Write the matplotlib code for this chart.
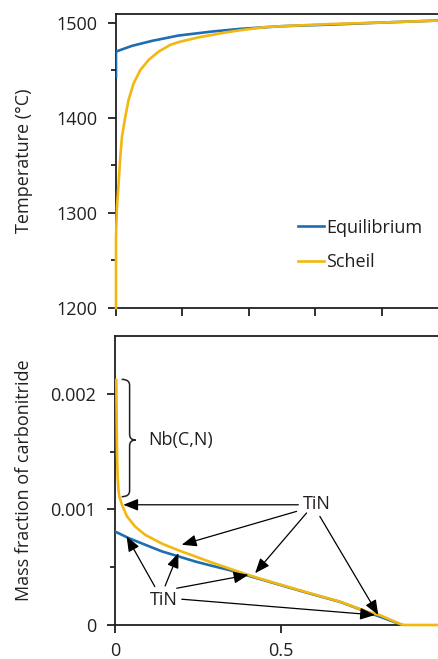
import matplotlib
matplotlib.use("Agg")
import matplotlib.pyplot as plt
from matplotlib.path import Path
from matplotlib.patches import PathPatch
from matplotlib.ticker import FixedLocator, FixedFormatter

plt.rcParams['font.family'] = ['Open Sans', 'DejaVu Sans']

TEXT = '#231f20'
BLUE = '#1f6db3'
YELLOW = '#f2b80f'

# ---------------- data ----------------
# Top panel: temperature vs fraction
eq_top_x = [0, 0, 0.048, 0.109, 0.189, 0.29, 0.375, 0.50, 0.65, 0.80, 1.0]
eq_top_T = [1443, 1469.5, 1475.5, 1480.8, 1486.4, 1490.6, 1493.4, 1496.2, 1497.9, 1500, 1502.5]

sch_top_x = [0, 0, 0.003, 0.008, 0.013, 0.018, 0.028, 0.038, 0.053, 0.073, 0.099,
             0.129, 0.164, 0.189, 0.249, 0.32, 0.375, 0.45, 0.55, 0.65, 0.80, 1.0]
sch_top_T = [1200, 1275, 1307, 1331.5, 1359, 1380, 1401, 1419, 1436, 1450, 1461,
             1469.6, 1476.6, 1479.5, 1484.5, 1489, 1492, 1495.3, 1497, 1498.5, 1500, 1502.5]

# Bottom panel: mass fraction of carbonitride
eq_bot_x = [0, 0.041, 0.091, 0.142, 0.192, 0.242, 0.292, 0.342, 0.392, 0.443,
            0.587, 0.678, 0.758, 0.866]
eq_bot_v = [0.000809, 0.000752, 0.000694, 0.000636, 0.000593, 0.000549, 0.000512,
            0.000477, 0.000434, 0.000392, 0.000272, 0.0002, 0.000114, 0.0]

sch_bot_x = [0.004, 0.005, 0.006, 0.008, 0.010, 0.013, 0.021, 0.036, 0.061, 0.091,
             0.142, 0.192, 0.242, 0.292, 0.342, 0.392, 0.443, 0.587, 0.678, 0.758,
             0.798, 0.866, 1.0]
sch_bot_v = [0.00212, 0.00180, 0.00150, 0.00128, 0.00118, 0.00111, 0.00104, 0.00094,
             0.00085, 0.00078, 0.000703, 0.000645, 0.000593, 0.00054, 0.000491,
             0.000442, 0.000396, 0.000275, 0.000202, 0.000116, 0.000085, 0.0, 0.0]

series_labels = ['Equilibrium', 'Scheil']

top_yticks = [1200, 1300, 1400, 1500]
top_yticklabels = ['1200', '1300', '1400', '1500']
top_yminor = [1250, 1350, 1450]
top_xticks = [0, 0.2, 0.4, 0.6, 0.8]

bot_yticks = [0, 0.001, 0.002]
bot_yticklabels = ['0', '0.001', '0.002']
bot_yminor = [0.0005, 0.0015]
bot_xticks = [0, 0.5]
bot_xticklabels = ['0', '0.5']

# annotations
upper_tin_pos = (0.609, 0.00105)
upper_tin_arrows = [  # (start, tip)
    ((0.552, 0.00104), (0.025, 0.00104)),
    ((0.547, 0.000983), (0.201, 0.000694)),
    ((0.577, 0.000969), (0.422, 0.000448)),
    ((0.617, 0.00094), (0.793, 0.0000867)),
]
lower_tin_pos = (0.148, 0.000217)
lower_tin_arrows = [
    ((0.120, 0.000332), (0.035, 0.000766)),
    ((0.151, 0.000338), (0.191, 0.000622)),
    ((0.186, 0.000318), (0.402, 0.000434)),
    ((0.201, 0.000223), (0.783, 0.0000867)),
]
nb_label_pos = (0.100, 0.00160)
brace_x0, brace_x1, brace_tip = 0.020, 0.044, 0.062
brace_top, brace_mid, brace_bot = 0.002125, 0.00160, 0.00111
brace_r = 0.00005

# ---------------- figure ----------------
W, H = 438, 659
fig = plt.figure(figsize=(W / 100, H / 100), dpi=100)
axw = 332 / W
ax1 = fig.add_axes([116 / W, 1 - 308 / H, axw, 294 / H])
ax2 = fig.add_axes([115 / W, 1 - 625 / H, axw, 289 / H])

FS = 13
for ax in (ax1, ax2):
    for s in ax.spines.values():
        s.set_linewidth(1.3)
        s.set_color(TEXT)
    ax.tick_params(which='major', direction='out', length=5.5, width=1.3,
                   colors=TEXT, labelsize=FS)
    ax.tick_params(which='minor', direction='out', length=3.5, width=1.3, colors=TEXT)
    ax.tick_params(axis='y', which='major', pad=8)
    ax.set_xlim(0, 1)

# top panel
ax1.plot(eq_top_x, eq_top_T, color=BLUE, lw=1.9, zorder=3, label=series_labels[0])
ax1.plot(sch_top_x, sch_top_T, color=YELLOW, lw=1.9, zorder=3.1, clip_on=False,
         label=series_labels[1])
ax1.set_ylim(1200, 1509)
ax1.yaxis.set_major_locator(FixedLocator(top_yticks))
ax1.yaxis.set_major_formatter(FixedFormatter(top_yticklabels))
ax1.yaxis.set_minor_locator(FixedLocator(top_yminor))
ax1.xaxis.set_major_locator(FixedLocator(top_xticks))
ax1.tick_params(axis='x', labelbottom=False)
ax1.set_ylabel('Temperature (°C)', fontsize=FS, color=TEXT)
ax1.yaxis.set_label_coords(-0.25, 0.5)
leg = ax1.legend(loc='upper left', bbox_to_anchor=(0.548, 0.304), frameon=False,
                 fontsize=FS, handlelength=1.42, handletextpad=0.15,
                 labelspacing=0.92, borderpad=0, borderaxespad=0)
for t in leg.get_texts():
    t.set_color(TEXT)

# bottom panel
ax2.plot(eq_bot_x, eq_bot_v, color=BLUE, lw=1.9, zorder=3)
ax2.plot(sch_bot_x, sch_bot_v, color=YELLOW, lw=1.9, zorder=3.1, clip_on=False)
ax2.set_ylim(0, 0.0025)
ax2.yaxis.set_major_locator(FixedLocator(bot_yticks))
ax2.yaxis.set_major_formatter(FixedFormatter(bot_yticklabels))
ax2.yaxis.set_minor_locator(FixedLocator(bot_yminor))
ax2.xaxis.set_major_locator(FixedLocator(bot_xticks))
ax2.xaxis.set_major_formatter(FixedFormatter(bot_xticklabels))
ax2.tick_params(axis='x', which='major', pad=6.5)
ax2.set_ylabel('Mass fraction of carbonitride', fontsize=FS, color=TEXT)
ax2.yaxis.set_label_coords(-0.248, 0.5)

arrowprops = dict(arrowstyle='-|>,head_length=0.75,head_width=0.3', color='black',
                  lw=0.9, shrinkA=0, shrinkB=0, mutation_scale=12)
for start, tip in upper_tin_arrows + lower_tin_arrows:
    ax2.annotate('', xy=tip, xytext=start, xycoords='data', textcoords='data',
                 arrowprops=arrowprops, zorder=4)
ax2.text(*upper_tin_pos, 'TiN', fontsize=FS, color=TEXT, ha='center', va='center',
         zorder=5)
ax2.text(*lower_tin_pos, 'TiN', fontsize=FS, color=TEXT, ha='center', va='center',
         zorder=5)

verts = [
    (brace_x0, brace_top),
    (brace_x1, brace_top), (brace_x1, brace_top - brace_r),
    (brace_x1, brace_mid + brace_r),
    (brace_x1, brace_mid), (brace_tip, brace_mid),
    (brace_x1, brace_mid), (brace_x1, brace_mid - brace_r),
    (brace_x1, brace_bot + brace_r),
    (brace_x1, brace_bot), (brace_x0, brace_bot),
]
codes = [Path.MOVETO,
         Path.CURVE3, Path.CURVE3,
         Path.LINETO,
         Path.CURVE3, Path.CURVE3,
         Path.CURVE3, Path.CURVE3,
         Path.LINETO,
         Path.CURVE3, Path.CURVE3]
ax2.add_patch(PathPatch(Path(verts, codes), fill=False, lw=1.1, edgecolor=TEXT,
                        zorder=4))
ax2.text(*nb_label_pos, 'Nb(C,N)', fontsize=FS, color=TEXT, ha='left', va='center')

fig.savefig('out.png', dpi=100)
